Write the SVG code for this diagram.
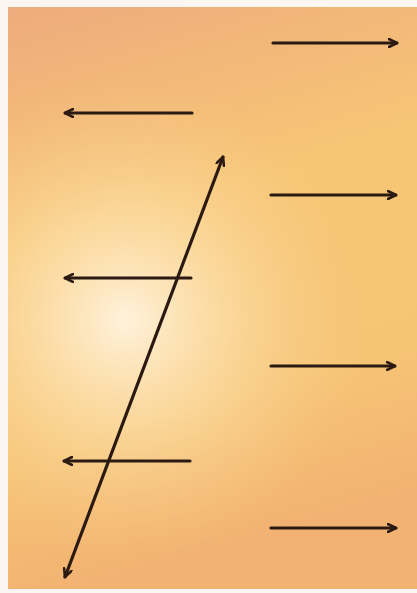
<svg xmlns="http://www.w3.org/2000/svg" width="417" height="593" viewBox="0 0 417 593">
  <defs>
    <linearGradient id="base" x1="0" y1="0" x2="0.2" y2="1">
      <stop offset="0" stop-color="#eeab7d"/>
      <stop offset="0.4" stop-color="#f7c675"/>
      <stop offset="0.75" stop-color="#f6c475"/>
      <stop offset="1" stop-color="#f2b272"/>
    </linearGradient>
    <radialGradient id="glow" cx="125" cy="320" r="240" gradientUnits="userSpaceOnUse">
      <stop offset="0" stop-color="#fff2dc" stop-opacity="1"/>
      <stop offset="0.4" stop-color="#fde2b0" stop-opacity="0.7"/>
      <stop offset="1" stop-color="#f8cc88" stop-opacity="0"/>
    </radialGradient>
    <marker id="ah" viewBox="0 0 10 10" refX="9" refY="5" markerWidth="10" markerHeight="10" markerUnits="userSpaceOnUse" orient="auto-start-reverse">
      <path d="M1,1 L9,5 L1,9" fill="none" stroke="#2b1a12" stroke-width="2.6" stroke-linecap="round" stroke-linejoin="round"/>
    </marker>
    <style>
      .arr { stroke: #2b1a12; stroke-width: 3.2; fill: none; stroke-linecap: round; marker-end: url(#ah); }
    </style>
  </defs>
  <rect width="417" height="593" fill="#fbf6f2"/>
  <rect x="8" y="7" width="409" height="582" fill="url(#base)"/>
  <rect x="8" y="7" width="409" height="582" fill="url(#glow)"/>
  <g id="connectors">
    <line id="a1" class="arr" x1="273" y1="43" x2="397" y2="43"/>
    <line id="a2" class="arr" x1="192" y1="113" x2="65" y2="113"/>
    <line id="a3" class="arr" x1="271" y1="195" x2="396" y2="195"/>
    <line id="a4" class="arr" x1="191" y1="278" x2="65" y2="278"/>
    <line id="a5" class="arr" x1="271" y1="366" x2="395" y2="366"/>
    <line id="a6" class="arr" x1="190" y1="461" x2="64" y2="461"/>
    <line id="a7" class="arr" x1="271" y1="528" x2="396" y2="528"/>
    <line id="diag" class="arr" x1="65" y1="577" x2="223" y2="157" style="marker-start:url(#ah)"/>
  </g>
</svg>
